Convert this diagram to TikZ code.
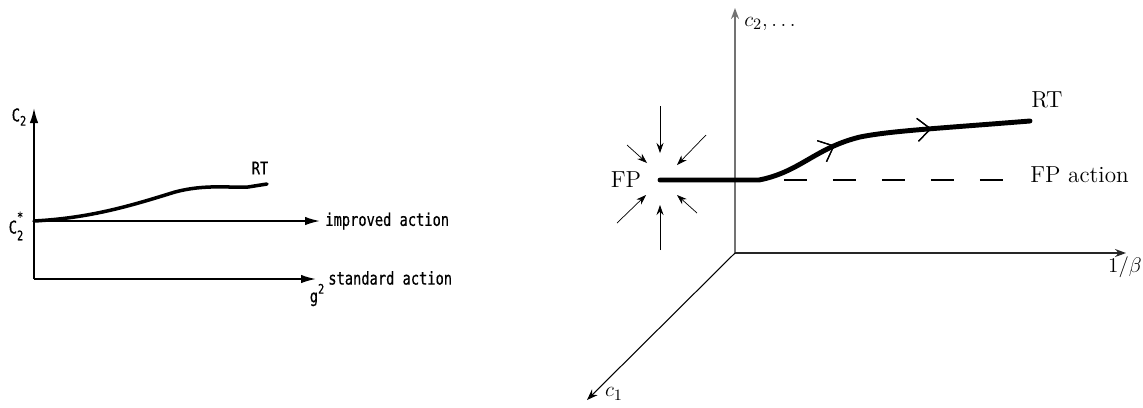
\documentclass[tikz,border=0pt]{standalone}
\usepackage{fontspec}
\usepackage{tikz}
\usetikzlibrary{arrows.meta,calc,decorations.markings}
\newfontfamily\handfont[FakeStretch=0.78,FakeBold=0.6]{DejaVu Sans Mono}
\newcommand\smallhand{\fontsize{7.5}{8}\selectfont}
\tikzset{hand/.style={font=\handfont\fontsize{10}{12}\selectfont,inner sep=0pt},
  lm/.style={font=\fontsize{13.2}{16}\selectfont,inner sep=0pt},
  haxis/.style={line width=1pt,-{Latex[length=3mm,width=1.7mm]}},
  flowline/.style={line width=2pt,line cap=round},
  axis/.style={-{Stealth[length=2.2mm,width=1.6mm]}},
  conv/.style={thin,-{Stealth[length=2mm,width=1.4mm]}},
  rgline/.style={line width=2.8pt,line cap=round},
  midtip/.style={postaction={decorate},decoration={markings,
    mark=at position #1 with {\arrow{Straight Barb[length=2.6mm,width=4.6mm,line width=0.7pt]}}}}}
\begin{document}
\begin{tikzpicture}[x=0.02cm,y=-0.02cm]
\useasboundingbox (0,0) rectangle (1143,407);
% left: old sketch
\coordinate (lo) at (34,279);
\coordinate (ltop) at (34,108);
\coordinate (lstart) at (34,221);
\coordinate (imp) at (320,221);
\coordinate (std) at (316,279);
\coordinate (lrt) at (267,184);
\draw[haxis] (lo) -- (ltop);
\draw[haxis] (lstart) -- (imp);
\draw[haxis] (lo) -- (std);
\draw[flowline] (lstart) .. controls (90,218) and (130,206) .. (175,192)
  .. controls (205,184) and (230,188) .. (248,187) -- (lrt);
\node[hand] (c2lab) at (19,117) {C\raisebox{-0.45ex}{\smallhand 2}};
\node[hand] (c2star) at (16,226) {C\rlap{\raisebox{1.25ex}{\smallhand *}}\raisebox{-0.7ex}{\smallhand 2}};
\node[hand] (rtleft) at (260,168) {RT};
\node[hand,anchor=west] (implab) at (325,221) {improved action};
\node[hand,anchor=west] (stdlab) at (328,278) {standard action};
\node[hand] (glab) at (317,295) {g\raisebox{0.9ex}{\smallhand 2}};
% right: flow picture
\coordinate (o) at (735,253);
\coordinate (c2tip) at (735,8);
\coordinate (betatip) at (1126,253);
\coordinate (c1tip) at (587,400);
\coordinate (fp) at (660,180);
\coordinate (bend) at (759,180);
\coordinate (rtend) at (1030,121);
\coordinate (dstart) at (784,180);
\coordinate (dend) at (1006,180);
\draw[axis,black!55,line width=1.1pt] (o) -- (c2tip);
\draw[axis,black!85,line width=0.8pt] (o) -- (betatip);
\draw[axis,line width=0.6pt] (o) -- (c1tip);
\draw[dash pattern=on 0.46cm off 0.52cm,line width=0.6pt] (dstart) -- (dend);
\draw[rgline,midtip=0.48,midtip=0.74] (fp) -- (bend)
  .. controls (800,172) and (815,148) .. (860,137)
  .. controls (890,131) and (930,129) .. (rtend);
\foreach \sx/\sy/\ex/\ey in {0/-74/0/-27,0/70/0/25,-33/-35/-13/-17,46/-45/17/-15,-43/43/-14/15,37/33/17/15}
  \draw[conv] ($(fp)+(\sx,\sy)$) -- ($(fp)+(\ex,\ey)$);
\node[lm] (fplab) at (626,180) {FP};
\node[lm,anchor=west] (fpact) at (1030,175) {FP action};
\node[lm] (rtlab) at (1047,100) {RT};
\node[lm,anchor=west] (c2lab2) at (744,24) {$c_2,\dots$};
\node[lm,anchor=east] (betalab) at (1142,267) {$1/\beta$};
\node[lm] (c1lab) at (614,394) {$c_1$};
\end{tikzpicture}
\end{document}
